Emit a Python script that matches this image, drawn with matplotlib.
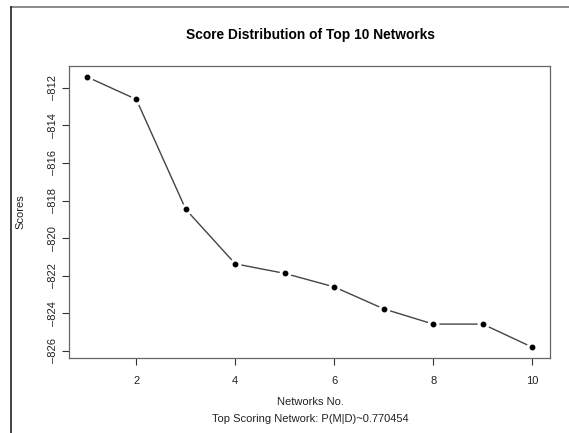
import numpy as np
import matplotlib.pyplot as plt
from matplotlib.lines import Line2D

# dados
redes = [1, 2, 3, 4, 5, 6, 7, 8, 9, 10]
scores = [-811.41, -812.61, -818.47, -821.37, -821.88,
          -822.60, -823.77, -824.58, -824.58, -825.81]
xticks = [2, 4, 6, 8, 10]
yticks = [-812, -814, -816, -818, -820, -822, -824, -826]

plt.rcParams['font.family'] = ['Liberation Sans', 'DejaVu Sans']

fig = plt.figure(figsize=(5.69, 4.33), dpi=100)
ax = fig.add_axes([69/569, 1-358/433, (550-69)/569, (358-66)/433])

# linha com espaco em volta dos pontos (estilo type="b" do R)
ax.plot(redes, scores, color='#444444', lw=1.0, zorder=1)
ax.plot(redes, scores, 'o', ms=7.5, color='white', mec='white', zorder=2)
ax.plot(redes, scores, 'o', ms=3.2, color='black', mec='black', zorder=3)

# limites com 4% de folga como no R
xr = max(redes) - min(redes)
yr = max(scores) - min(scores)
ax.set_xlim(min(redes) - 0.04*xr, max(redes) + 0.04*xr)
ax.set_ylim(min(scores) - 0.04*yr, max(scores) + 0.04*yr)

ax.set_xticks(xticks)
ax.set_xticklabels([str(t) for t in xticks])
ax.set_yticks(yticks)
ax.set_yticklabels([str(t).replace('-', '\u2013') for t in yticks], rotation=90, va='center')
ax.tick_params(direction='out', length=5, width=0.8, colors='#333333',
               labelsize=8, labelcolor='#222222')
ax.tick_params(axis='x', pad=8)
ax.tick_params(axis='y', pad=3)
for s in ax.spines.values():
    s.set_color('#666666')
    s.set_linewidth(0.9)

fig.text(310/569, 1-35/433, 'Score Distribution of Top 10 Networks',
         ha='center', va='center', fontsize=9.9, fontweight='bold')
fig.text(310/569, 1-402/433, 'Networks No.', ha='center', va='center', fontsize=8, color='#222222')
fig.text(310/569, 1-419/433, 'Top Scoring Network: P(M|D)~0.770454',
         ha='center', va='center', fontsize=8, color='#222222')
fig.text(20/569, 1-212/433, 'Scores', ha='center', va='center', rotation=90,
         fontsize=8, color='#222222')

# moldura da imagem (topo e esquerda)
fig.add_artist(Line2D([10.5/569, 1], [1-6.5/433, 1-6.5/433], transform=fig.transFigure,
                      color='#777777', lw=1.2))
fig.add_artist(Line2D([10.5/569, 10.5/569], [0, 1-6.5/433], transform=fig.transFigure,
                      color='#222222', lw=1.2))

fig.savefig('out.png', dpi=100)
